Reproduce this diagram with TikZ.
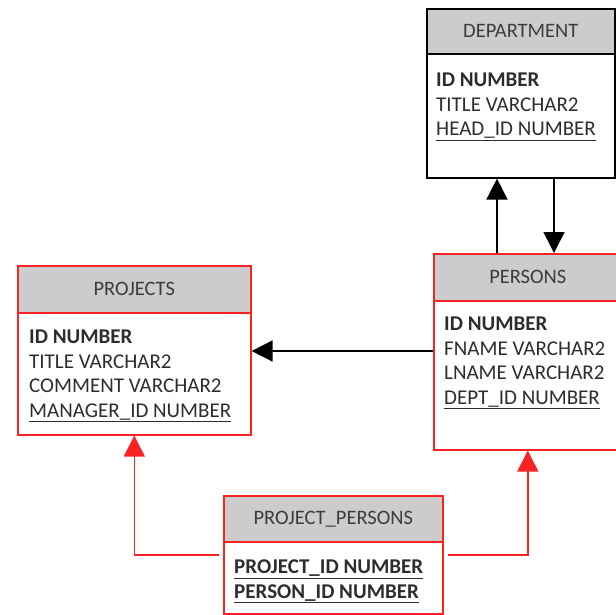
\documentclass[tikz,border=0pt]{standalone}
\usepackage{fontspec}
\setmainfont{Carlito}
\definecolor{erred}{RGB}{250,35,35}
\definecolor{ergray}{RGB}{204,204,204}
\definecolor{ertext}{RGB}{45,45,45}
\definecolor{erhead}{RGB}{60,60,60}
\usetikzlibrary{arrows.meta,positioning}

\begin{document}
\begin{tikzpicture}[
  tbl/.style={
    rectangle, anchor=north west,
    draw=erred, line width=1.6pt,
    inner sep=0pt
  },
  tblhead/.style={
    rectangle, draw=erred, line width=1.6pt,
    fill=ergray, inner sep=0pt,
    font=\fontsize{20.5pt}{24.6pt}\selectfont,
    text=erhead
  },
  tblrows/.style={
    anchor=north west, inner sep=0pt,
    align=left,
    font=\fontsize{21pt}{24.6pt}\selectfont,
    text=ertext
  },
  conn/.style={-{Triangle[length=21pt,width=21pt]}, line width=1.6pt, draw=black},
  fkconn/.style={conn, draw=erred}
]
\useasboundingbox (0,0) rectangle (616pt,-615pt);

% tables
\node[tbl, draw=black, minimum width=188pt, minimum height=169pt] (dept) at (426pt,-8pt) {};
\node[tblhead, draw=black, minimum width=188pt, minimum height=45pt, below=0pt of dept.north] (dept-h) {DEPARTMENT};
\node[tblrows, below right=18pt and 10pt of dept-h.south west] (dept-r)
  {\textbf{ID NUMBER}\\TITLE VARCHAR2\\\underline{HEAD\_ID NUMBER}};

\node[tbl, minimum width=188pt, minimum height=196pt] (pers) at (433pt,-253pt) {};
\node[tblhead, minimum width=188pt, minimum height=47pt, below=0pt of pers.north] (pers-h) {PERSONS};
\node[tblrows, below right=15pt and 11pt of pers-h.south west] (pers-r)
  {\textbf{ID NUMBER}\\FNAME VARCHAR2\\LNAME VARCHAR2\\\underline{DEPT\_ID NUMBER}};

\node[tbl, minimum width=233pt, minimum height=169pt] (proj) at (17pt,-265pt) {};
\node[tblhead, minimum width=233pt, minimum height=47pt, below=0pt of proj.north] (proj-h) {PROJECTS};
\node[tblrows, below right=16pt and 12pt of proj-h.south west] (proj-r)
  {\textbf{ID NUMBER}\\TITLE VARCHAR2\\COMMENT VARCHAR2\\\underline{MANAGER\_ID NUMBER}};

\node[tbl, minimum width=219pt, minimum height=118pt] (pp) at (223pt,-495pt) {};
\node[tblhead, minimum width=219pt, minimum height=46pt, below=0pt of pp.north] (pp-h) {PROJECT\_PERSONS};
\node[tblrows, below right=17pt and 11pt of pp-h.south west] (pp-r)
  {\underline{\textbf{PROJECT\_ID NUMBER}}\\\underline{\textbf{PERSON\_ID NUMBER}}};

% links
\coordinate (up-s) at ([xshift=64pt]pers.north west);
\coordinate (dn-s) at ([xshift=121pt]pers.north west);
\coordinate (lk) at ([yshift=-98pt]pers.north west);
\coordinate (ppl) at ([yshift=-60pt]pp.north west);
\coordinate (ppr) at ([yshift=-60pt]pp.north east);

\draw[conn] (up-s) -- (up-s |- dept.south);
\draw[conn] (dn-s |- dept.south) -- (dn-s);
\draw[conn] (lk) -- (lk -| proj.east);
\draw[fkconn, shorten <=4pt] (ppl) -| (proj.south);
\draw[fkconn, shorten <=4pt] (ppr) -| (pers.south);
\end{tikzpicture}
\end{document}
